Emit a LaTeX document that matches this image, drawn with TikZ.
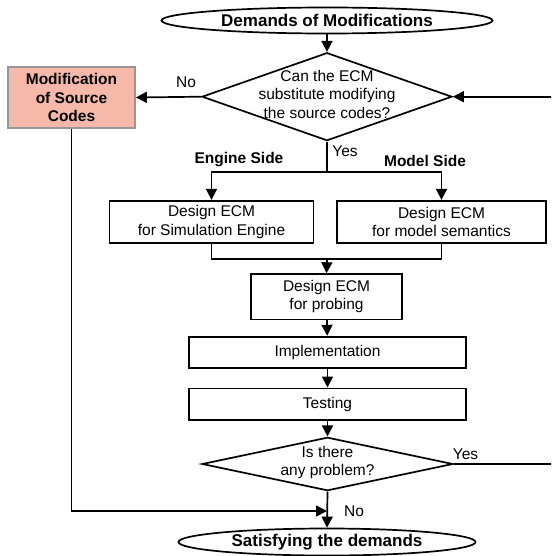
\documentclass[tikz,border=0pt]{standalone}
\usepackage{fontspec}
\setmainfont{Liberation Sans}
\usetikzlibrary{shapes.geometric,arrows.meta}
\definecolor{salmonfill}{RGB}{246,184,168}
\definecolor{boxgray}{RGB}{150,150,150}
\begin{document}
\begin{tikzpicture}[x=1pt,y=-1pt,
  line width=1.7pt,
  arr/.style={-{Triangle[length=11pt,width=11pt]}},
  txt/.style={font=\fontsize{15.5}{18.5}\selectfont, align=center},
  btxt/.style={font=\fontsize{15.5}{18.5}\selectfont\bfseries, align=center},
  terminal/.style={ellipse, draw, inner sep=0pt,
    font=\fontsize{17}{20}\selectfont\bfseries},
  stepbox/.style={rectangle, draw, txt, inner sep=3pt},
  decision/.style={diamond, draw, inner sep=0pt},
  lbl/.style={txt, inner sep=0pt},
  blbl/.style={btxt, inner sep=0pt}
]
\useasboundingbox (0,0) rectangle (551,556);
\clip (0,0) rectangle (551,556);

% terminals
\node[terminal, minimum width=331pt, minimum height=26pt] (start) at (327,20.5) {Demands of Modifications};
\node[terminal, minimum width=297pt, minimum height=27pt] (finish) at (327,542) {Satisfying the demands};

% decisions
\node[decision, minimum width=250pt, minimum height=88pt,
  label={[txt, yshift=2.5pt]center:{Can the ECM\\substitute modifying\\the source codes?}}]
  (q1) at (327,96.7) {};
\node[decision, minimum width=251pt, minimum height=53.4pt,
  label={[txt, yshift=1.5pt]center:{Is there\\any problem?}}]
  (q2) at (327.5,464) {};

% process boxes
\node[rectangle, draw=boxgray, fill=salmonfill, btxt, minimum width=127pt, minimum height=61.6pt]
  (modsrc) at (71.5,97.5) {Modification\\of Source\\Codes};
\node[stepbox, minimum width=204pt, minimum height=42.6pt] (eng) at (211.5,222) {Design ECM\\for Simulation Engine};
\node[stepbox, minimum width=209pt, minimum height=42.6pt] (mdl) at (441.5,222) {Design ECM\\for model semantics};
\node[stepbox, minimum width=151pt, minimum height=45.3pt] (probe) at (326.5,296.7) {Design ECM\\for probing};
\node[stepbox, minimum width=277pt, minimum height=31.3pt] (impl) at (327.5,352.3) {Implementation};
\node[stepbox, minimum width=277pt, minimum height=31.7pt] (test) at (327.5,404.2) {Testing};

% branch labels
\node[lbl] (noA) at (186,82.7) {No};
\node[lbl] (yesA) at (345,151.7) {Yes};
\node[blbl] (engside) at (239,159.3) {Engine Side};
\node[blbl] (mdlside) at (425,160.7) {Model Side};
\node[lbl] (yesB) at (465.5,454) {Yes};
\node[lbl] (noB) at (354,511.7) {No};

% junction points
\coordinate (split) at (327,171.7);
\coordinate (merge) at (327,259);
\coordinate (join) at (327,511);

% connectors
\draw[arr] (start) -- (q1.north);
\draw[arr] (q1.west) -- (modsrc.east);
\draw (q1.south) -- (split);
\draw[arr] (split) -| (eng.north);
\draw[arr] (split) -| (mdl.north);
\draw (eng.south) |- (merge) -| (mdl.south);
\draw[arr] (merge) -- (probe.north);
\draw[arr] (probe) -- (impl);
\draw[arr] (impl) -- (test);
\draw[arr] (test) -- (q2.north);
\draw[arr] (q2.south) -- (finish.north);
\draw[arr] (modsrc.south) |- (join);
\draw[arr] (q2.east) -- ++(120,0) |- (q1.east);
\end{tikzpicture}
\end{document}
